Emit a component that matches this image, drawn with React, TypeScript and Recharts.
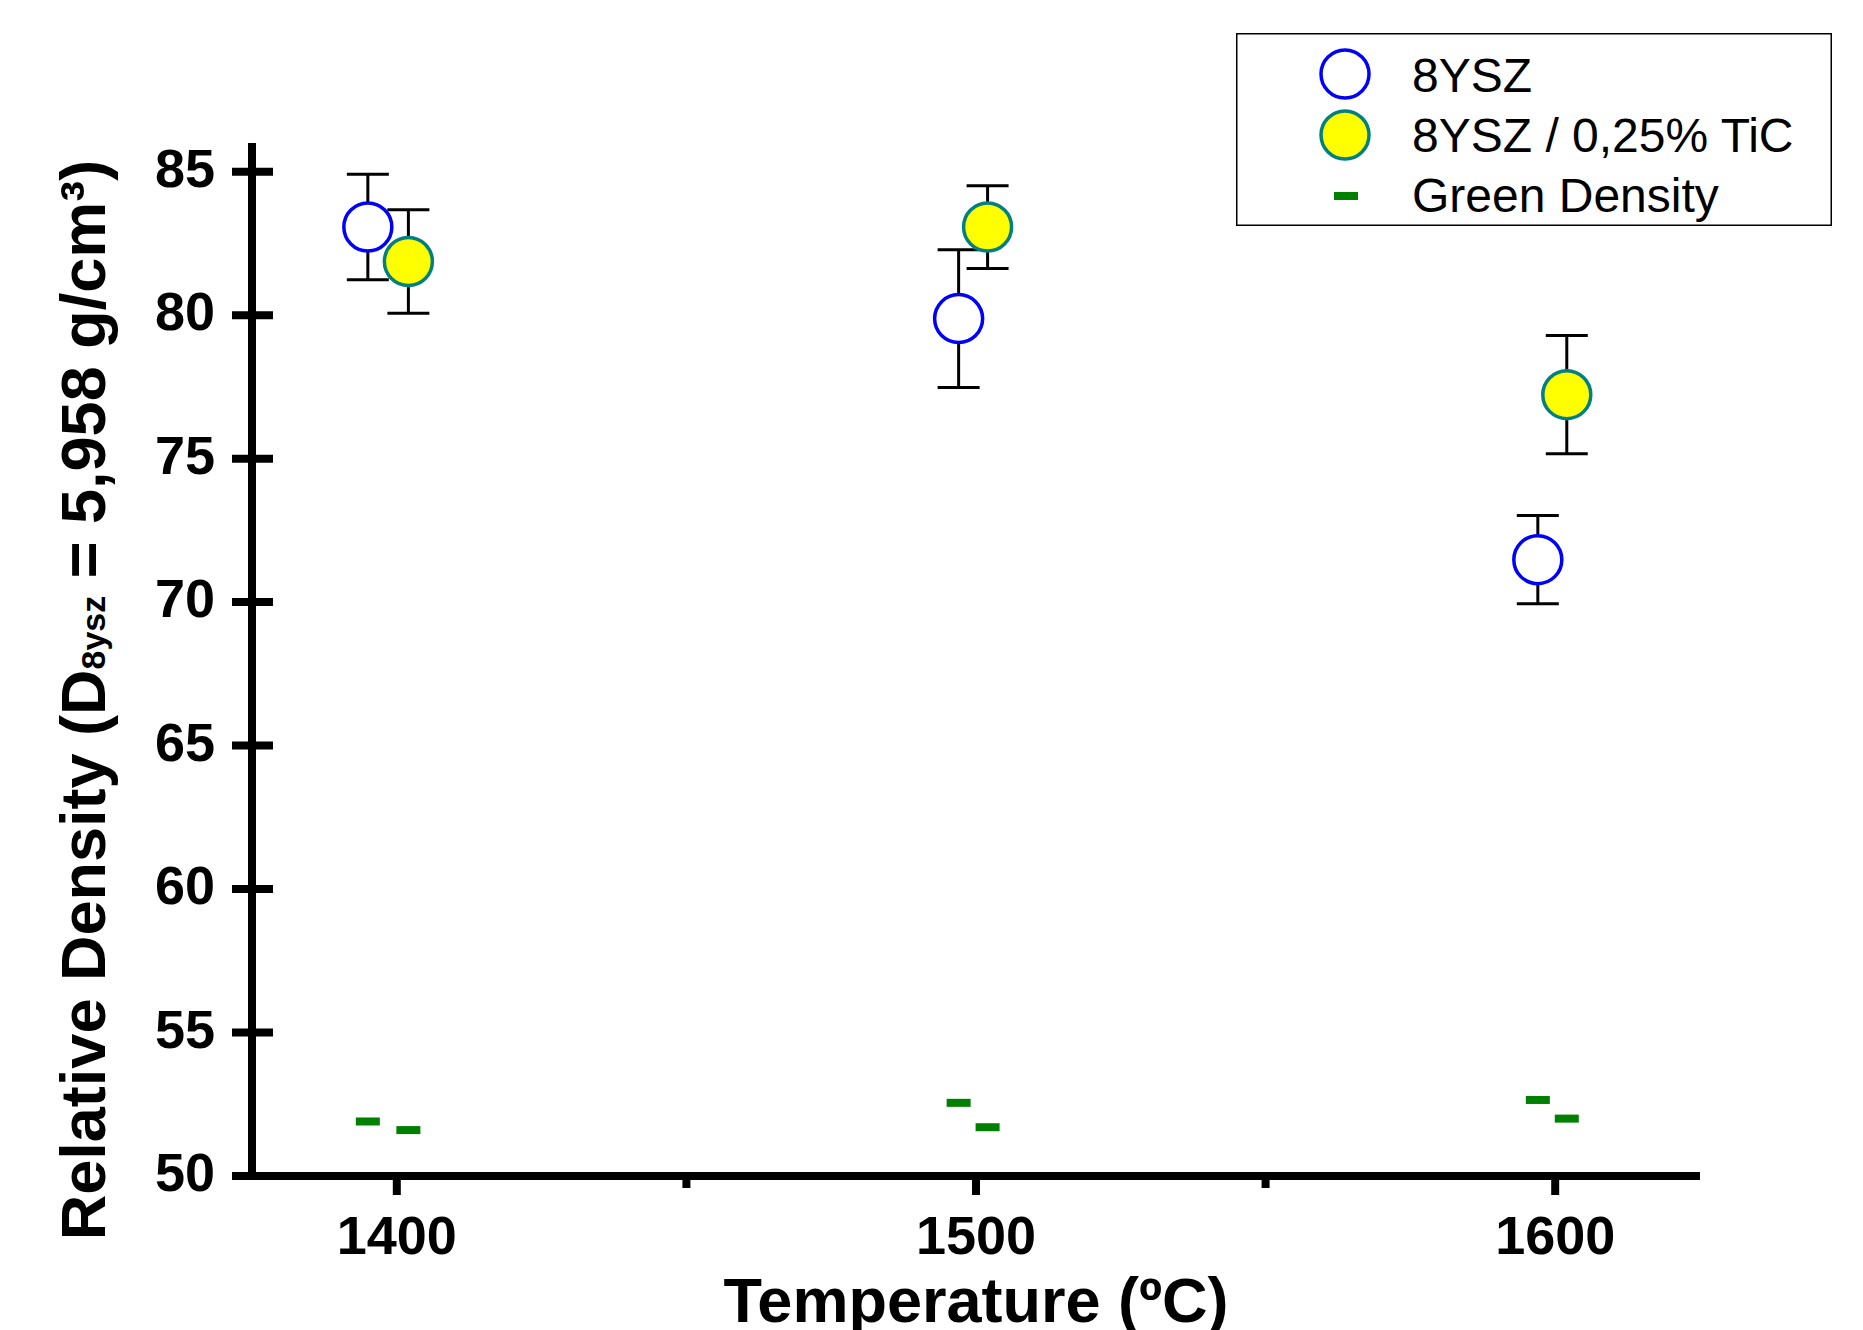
import { ScatterChart, Scatter, XAxis, YAxis, ErrorBar } from "recharts"

const FONT = '"Liberation Sans", Arial, Helvetica, sans-serif'

// temperatures (ºC) and the slightly shifted x positions of each series
const temps = [1400, 1500, 1600]
const yszX = [1395, 1497, 1597]
const ticX = [1402, 1502, 1602]

// relative density (%) with standard deviation
const yszDensity = [83.07, 79.88, 71.48]
const yszError = [1.84, 2.4, 1.54]
const ticDensity = [81.87, 83.07, 77.23]
const ticError = [1.8, 1.44, 2.06]

// green density of the pressed pellets
const greenYsz = [51.9, 52.55, 52.65]
const greenTic = [51.6, 51.7, 52.0]

const xTicks = [1400, 1450, 1500, 1550, 1600]
const yTicks = [50, 55, 60, 65, 70, 75, 80, 85]
const seriesNames = ["8YSZ", "8YSZ / 0,25% TiC", "Green Density"]

const yszData = yszX.map((x, i) => ({ x, y: yszDensity[i], err: yszError[i] }))
const ticData = ticX.map((x, i) => ({ x, y: ticDensity[i], err: ticError[i] }))
const greenData = [
    ...yszX.map((x, i) => ({ x, y: greenYsz[i] })),
    ...ticX.map((x, i) => ({ x, y: greenTic[i] })),
]

const OpenCircle = (p: any) => (
    <circle cx={p.cx} cy={p.cy} r={24} fill="#ffffff" stroke="#0000ff" strokeWidth={3.5} />
)
const YellowCircle = (p: any) => (
    <circle cx={p.cx} cy={p.cy} r={24} fill="#ffff00" stroke="#008080" strokeWidth={3.5} />
)
const GreenDash = (p: any) => (
    <rect x={p.cx - 12} y={p.cy - 4} width={24} height={8} fill="#008000" />
)

function YTick({ x, y, payload }: any) {
    return (
        <g>
            <line x1={x - 20} x2={x + 21} y1={y} y2={y} stroke="#000" strokeWidth={8} />
            <text
                x={x - 37}
                y={y + 15}
                textAnchor="end"
                fontFamily={FONT}
                fontWeight="bold"
                fontSize={54}
                fill="#000"
            >
                {payload.value}
            </text>
        </g>
    )
}

function XTick({ x, y, payload }: any) {
    const major = temps.includes(payload.value)
    return (
        <g>
            <line x1={x} x2={x} y1={y} y2={y + (major ? 19 : 12)} stroke="#000" strokeWidth={8} />
            {major && (
                <text
                    x={x}
                    y={y + 78}
                    textAnchor="middle"
                    fontFamily={FONT}
                    fontWeight="bold"
                    fontSize={54}
                    fill="#000"
                >
                    {payload.value}
                </text>
            )}
        </g>
    )
}

const XTitle = () => (
    <text x={976} y={1322} textAnchor="middle" fontFamily={FONT} fontWeight="bold" fontSize={63} fill="#000">
        Temperature (ºC)
    </text>
)

const YTitle = () => (
    <text
        x={105}
        y={700}
        transform="rotate(-90 105 700)"
        textAnchor="middle"
        fontFamily={FONT}
        fontWeight="bold"
        fontSize={63}
        fill="#000"
    >
        Relative Density (D
        <tspan fontSize={34}>8ysz</tspan>
        <tspan> = 5,958 g/cm³)</tspan>
    </text>
)

function LegendBox() {
    const markers = [
        <circle key="a" cx={109} cy={41} r={24} fill="#fff" stroke="#0000ff" strokeWidth={3.5} />,
        <circle key="b" cx={109} cy={102} r={24} fill="#ffff00" stroke="#008080" strokeWidth={3.5} />,
        <rect key="c" x={98} y={159} width={24} height={8} fill="#008000" />,
    ]
    return (
        <svg
            width={596}
            height={193}
            style={{ position: "absolute", left: 1236, top: 33 }}
        >
            <rect x={0.75} y={0.75} width={594.5} height={191.5} fill="#fff" stroke="#000" strokeWidth={1.5} />
            {seriesNames.map((name, i) => (
                <g key={name}>
                    {markers[i]}
                    <text x={176} y={59 + i * 60} fontFamily={FONT} fontSize={48} fill="#000">
                        {name}
                    </text>
                </g>
            ))}
        </svg>
    )
}

export default function App() {
    return (
        <div style={{ position: "absolute", left: 0, top: 0, width: 1863, height: 1330, background: "#fff" }}>
            <ScatterChart
                width={1863}
                height={1330}
                margin={{ top: 143, right: 163, left: 0, bottom: 0 }}
            >
                <XAxis
                    type="number"
                    dataKey="x"
                    domain={[1375, 1625]}
                    ticks={xTicks}
                    interval={0}
                    height={154}
                    tickSize={0}
                    tickMargin={0}
                    tickLine={false}
                    tick={<XTick />}
                    axisLine={{ stroke: "#000", strokeWidth: 8 }}
                    label={<XTitle />}
                />
                <YAxis
                    type="number"
                    dataKey="y"
                    domain={[50, 86]}
                    ticks={yTicks}
                    interval={0}
                    width={252}
                    tickSize={0}
                    tickMargin={0}
                    tickLine={false}
                    tick={<YTick />}
                    axisLine={{ stroke: "#000", strokeWidth: 8 }}
                    label={<YTitle />}
                />
                <Scatter name={seriesNames[0]} data={yszData} shape={OpenCircle} isAnimationActive={false}>
                    <ErrorBar dataKey="err" direction="y" width={21} stroke="#000" strokeWidth={3} />
                </Scatter>
                <Scatter name={seriesNames[1]} data={ticData} shape={YellowCircle} isAnimationActive={false}>
                    <ErrorBar dataKey="err" direction="y" width={21} stroke="#000" strokeWidth={3} />
                </Scatter>
                <Scatter name={seriesNames[2]} data={greenData} shape={GreenDash} isAnimationActive={false} />
            </ScatterChart>
            <LegendBox />
        </div>
    )
}
